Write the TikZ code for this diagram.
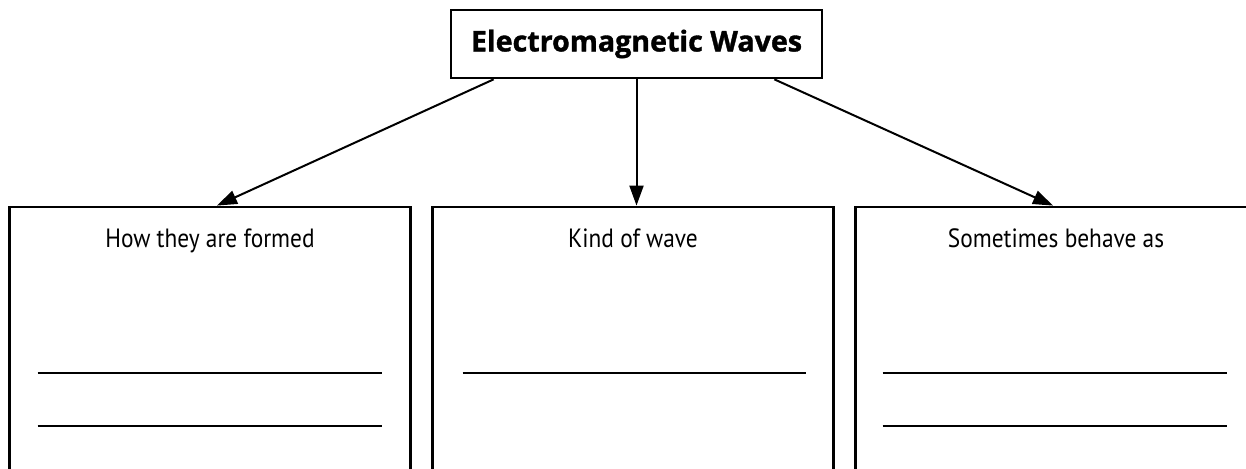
\documentclass[tikz,border=0pt]{standalone}
\usepackage{fontspec}
\setmainfont{PT Sans}
\newfontfamily\bodyfont[FakeStretch=0.885]{PT Sans}
\newfontfamily\titlefont[FakeBold=1.3]{Open Sans}
\usetikzlibrary{arrows.meta}

\begin{document}
\begin{tikzpicture}[
    x=0.5pt,y=-0.5pt,
    frame/.style={line width=1.35pt,line join=miter},
    titlebox/.style={
        draw,
        line width=1.35pt,
        minimum width=185.5pt,
        minimum height=34pt,
        inner sep=0pt,
        font=\titlefont\bfseries\fontsize{14.3}{16}\selectfont
    },
    openbox/.style={
        minimum width=200pt,
        minimum height=140pt,
        inner sep=0pt,
        anchor=north
    },
    boxtext/.style={anchor=base,font=\bodyfont\fontsize{13.2}{16}\selectfont},
    blank/.style={line width=1pt},
    link/.style={
        line width=1pt,
        -{Triangle[length=10pt,width=7pt]}
    }
]

% ------------------------------------------------
% Page size
% ------------------------------------------------
\useasboundingbox (0,0) rectangle (1246,469);
\clip (0,0) rectangle (1246,469);

% ------------------------------------------------
% Title box
% ------------------------------------------------
\node[titlebox] (title) at (636.5,44) {Electromagnetic Waves};

% ------------------------------------------------
% Three boxes, open at the bottom
% ------------------------------------------------
\node[openbox] (formed) at (210,207) {};
\node[openbox] (kind)   at (633,207) {};
\node[openbox] (behave) at (1056,207) {};

\foreach \B in {formed,kind,behave}
    \draw[frame] (\B.south west) -- (\B.north west) -- (\B.north east) -- (\B.south east);

\node[boxtext] (formedtext) at ([yshift=-20.5pt]formed.north) {How they are formed};
\node[boxtext] (kindtext)   at ([yshift=-20.5pt]kind.north)   {Kind of wave};
\node[boxtext] (behavetext) at ([yshift=-20.5pt]behave.north) {Sometimes behave as};

% ------------------------------------------------
% Lines to write on
% ------------------------------------------------
\draw[blank] ([xshift=14pt,yshift=-83pt]formed.north west) -- ([xshift=-14pt,yshift=-83pt]formed.north east);
\draw[blank] ([xshift=14pt,yshift=-109.5pt]formed.north west) -- ([xshift=-14pt,yshift=-109.5pt]formed.north east);

\draw[blank] ([xshift=15pt,yshift=-83pt]kind.north west) -- ([xshift=-13.5pt,yshift=-83pt]kind.north east);

\draw[blank] ([xshift=13.5pt,yshift=-83pt]behave.north west) -- ([xshift=-14.5pt,yshift=-83pt]behave.north east);
\draw[blank] ([xshift=13.5pt,yshift=-109.5pt]behave.north west) -- ([xshift=-14.5pt,yshift=-109.5pt]behave.north east);

% ------------------------------------------------
% Arrows
% ------------------------------------------------
\draw[link] ([xshift=22pt]title.south west) -- ([xshift=3.5pt,yshift=0.7pt]formed.north);
\draw[link] (title.south) -- ([yshift=0.7pt]title.south |- kind.north);
\draw[link] ([xshift=-24.5pt]title.south east) -- ([xshift=-1.5pt,yshift=0.7pt]behave.north);

\end{tikzpicture}
\end{document}
